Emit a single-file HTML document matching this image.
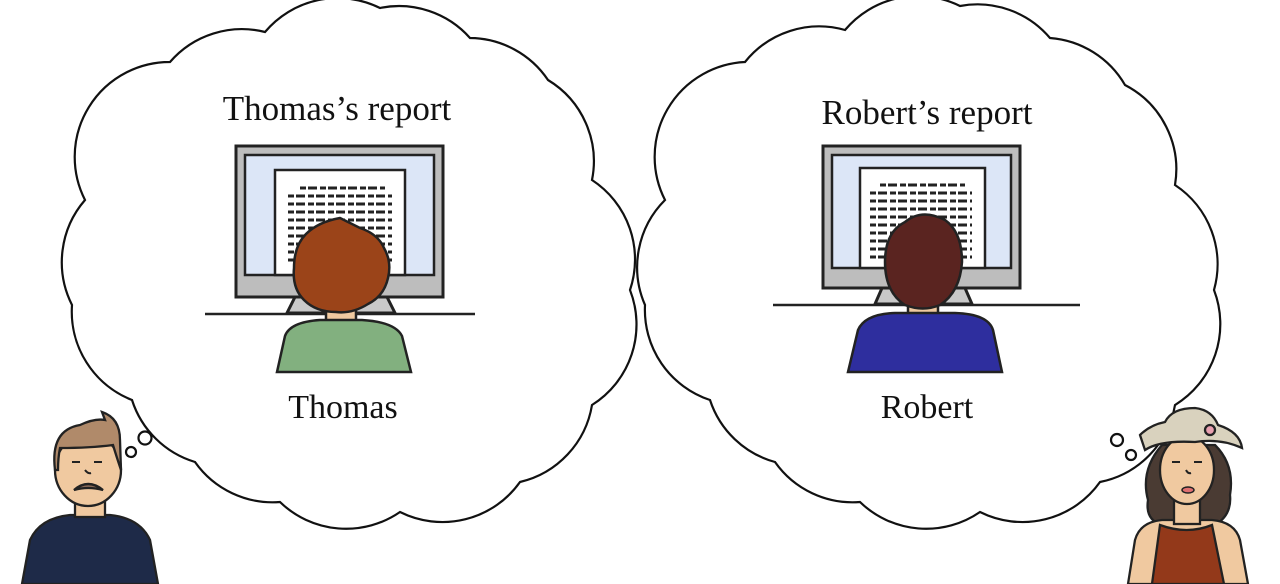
<!DOCTYPE html>
<html><head><meta charset="utf-8"><style>
html,body{margin:0;padding:0;background:#fff;}
svg{display:block}
text{font-family:"Liberation Serif",serif;fill:#111}
</style></head><body>
<svg width="1280" height="584" viewBox="0 0 1280 584" xmlns="http://www.w3.org/2000/svg">
<g fill="#fff" stroke="#111" stroke-width="2.2">
<path d="M170,62 A95,95 0 0 1 265,32 A95,95 0 0 1 380,8 A95,95 0 0 1 470,38 A95,95 0 0 1 548,80 A95,95 0 0 1 592,180 A95,95 0 0 1 630,290 A95,95 0 0 1 592,405 A95,95 0 0 1 520,482 A95,95 0 0 1 400,512 A95,95 0 0 1 280,502 A95,95 0 0 1 195,462 A95,95 0 0 1 132,400 A95,95 0 0 1 72,305 A95,95 0 0 1 85,200 A95,95 0 0 1 170,62 Z"/>
<path d="M745,62 A95,95 0 0 1 845,30 A95,95 0 0 1 960,6 A95,95 0 0 1 1050,38 A95,95 0 0 1 1125,85 A95,95 0 0 1 1175,185 A95,95 0 0 1 1214,290 A95,95 0 0 1 1175,405 A95,95 0 0 1 1100,482 A95,95 0 0 1 980,512 A95,95 0 0 1 860,502 A95,95 0 0 1 775,462 A95,95 0 0 1 710,400 A95,95 0 0 1 645,305 A95,95 0 0 1 665,200 A95,95 0 0 1 745,62 Z"/>
<circle cx="131" cy="452" r="5"/><circle cx="145" cy="438" r="6.5"/>
<circle cx="1117" cy="440" r="6"/><circle cx="1131" cy="455" r="5"/>
</g>
<text x="337" y="120" font-size="35" text-anchor="middle">Thomas’s report</text>
<text x="343" y="418" font-size="34" text-anchor="middle">Thomas</text>
<text x="927" y="124" font-size="35" text-anchor="middle">Robert’s report</text>
<text x="927" y="418" font-size="34" text-anchor="middle">Robert</text>

<!-- left monitor -->
<g stroke="#222" stroke-width="3">
<path d="M295,297 L387,297 L395,313 L287,313 Z" fill="#c9c9c9"/>
<rect x="236" y="146" width="207" height="151" fill="#bdbdbd"/>
<rect x="245" y="155" width="189" height="120" fill="#dce6f7" stroke-width="2.5"/>
<rect x="275" y="170" width="130" height="105" fill="#fff" stroke-width="2.5"/>
<line x1="205" y1="314" x2="475" y2="314" stroke-width="2.5"/>
</g>
<g stroke="#222" stroke-width="3" stroke-dasharray="6 2 9 3">
<line x1="300" y1="188" x2="385" y2="188"/><line x1="288" y1="196" x2="392" y2="196"/>
<line x1="288" y1="204" x2="392" y2="204"/><line x1="288" y1="212" x2="392" y2="212"/>
<line x1="288" y1="220" x2="392" y2="220"/><line x1="288" y1="228" x2="392" y2="228"/>
<line x1="288" y1="236" x2="392" y2="236"/><line x1="288" y1="244" x2="392" y2="244"/>
<line x1="288" y1="252" x2="392" y2="252"/><line x1="288" y1="260" x2="392" y2="260"/>
</g>
<g stroke="#222" stroke-width="2.5">
<rect x="326" y="300" width="30" height="24" fill="#f0c9a0"/>
<path d="M277,372 L285,336 Q290,322 320,320 L362,320 Q395,322 402,336 L411,372 Z" fill="#82b07f"/>
<path d="M340,218 Q352,224 360,228 Q378,234 384,248 Q392,262 388,278 Q384,296 368,304 Q352,314 336,312 Q316,312 304,300 Q292,288 294,268 Q294,246 306,234 Q318,222 340,218 Z" fill="#9b4419"/>
</g>

<!-- right monitor -->
<g stroke="#222" stroke-width="3">
<path d="M882,288 L965,288 L972,304 L875,304 Z" fill="#c9c9c9"/>
<rect x="823" y="146" width="197" height="142" fill="#bdbdbd"/>
<rect x="832" y="155" width="179" height="113" fill="#dce6f7" stroke-width="2.5"/>
<rect x="860" y="168" width="125" height="100" fill="#fff" stroke-width="2.5"/>
<line x1="773" y1="305" x2="1080" y2="305" stroke-width="2.5"/>
</g>
<g stroke="#222" stroke-width="3" stroke-dasharray="6 2 9 3">
<line x1="880" y1="185" x2="965" y2="185"/><line x1="870" y1="193" x2="972" y2="193"/>
<line x1="870" y1="201" x2="972" y2="201"/><line x1="870" y1="209" x2="972" y2="209"/>
<line x1="870" y1="217" x2="972" y2="217"/><line x1="870" y1="225" x2="972" y2="225"/>
<line x1="870" y1="233" x2="972" y2="233"/><line x1="870" y1="241" x2="972" y2="241"/>
<line x1="870" y1="249" x2="972" y2="249"/><line x1="870" y1="257" x2="972" y2="257"/>
</g>
<g stroke="#222" stroke-width="2.5">
<rect x="908" y="295" width="30" height="20" fill="#f0c9a0"/>
<path d="M848,372 L858,330 Q865,314 895,313 L955,313 Q988,314 993,330 L1002,372 Z" fill="#2e2e9e"/>
<path d="M905,222 Q922,208 945,220 Q962,232 962,262 Q960,292 940,305 Q923,312 905,305 Q885,292 885,262 Q885,232 905,222 Z" fill="#5a2420"/>
</g>

<!-- left man -->
<g stroke="#222" stroke-width="2.3">
<path d="M22,584 L30,540 Q40,518 70,515 L110,515 Q140,518 150,540 L158,584 Z" fill="#1e2a48"/>
<rect x="75" y="495" width="30" height="22" fill="#f0c9a0"/>
<ellipse cx="88" cy="470" rx="33" ry="36" fill="#f0c9a0"/>
<path d="M55,470 Q50,430 80,425 Q95,418 105,420 L102,412 Q120,418 120,440 L121,470 Q116,455 113,445 Q90,448 60,448 Q58,458 58,470 Z" fill="#b08a6a"/>
<path d="M74,490 Q88,478 103,490 Q88,486 74,490 Z" fill="#8a6a58"/>
</g>
<g stroke="#222" stroke-width="2" fill="none">
<line x1="72" y1="462" x2="80" y2="462"/><line x1="94" y1="462" x2="102" y2="462"/>
<path d="M85,470 q3,4 6,3"/>
</g>

<!-- right woman -->
<g stroke="#222" stroke-width="2.3">
<path d="M1162,445 Q1140,470 1148,500 Q1145,520 1162,525 L1215,525 Q1232,515 1230,495 Q1235,465 1215,445 Z" fill="#4a3b33"/>
<path d="M1128,584 L1135,540 Q1140,522 1162,520 L1212,520 Q1235,522 1240,540 L1248,584 Z" fill="#f0c9a0"/>
<path d="M1152,584 L1160,525 Q1187,535 1212,525 L1224,584 Z" fill="#93391a"/>
<rect x="1174" y="500" width="26" height="24" fill="#f0c9a0"/>
<ellipse cx="1187" cy="470" rx="27" ry="34" fill="#f0c9a0"/>
<path d="M1140,435 Q1150,425 1165,422 Q1172,408 1195,408 Q1212,410 1218,425 Q1240,432 1242,448 Q1220,438 1195,442 Q1160,440 1145,450 Z" fill="#d9d2be"/>
<circle cx="1210" cy="430" r="5" fill="#e8a0b0"/>
</g>
<g stroke="#222" stroke-width="2" fill="none">
<line x1="1172" y1="462" x2="1180" y2="462"/><line x1="1194" y1="462" x2="1202" y2="462"/>
<path d="M1186,470 q2,4 5,3"/>
</g>
<ellipse cx="1188" cy="490" rx="6" ry="3" fill="#e07070" stroke="#222" stroke-width="1.5"/>
</svg>
</body></html>
